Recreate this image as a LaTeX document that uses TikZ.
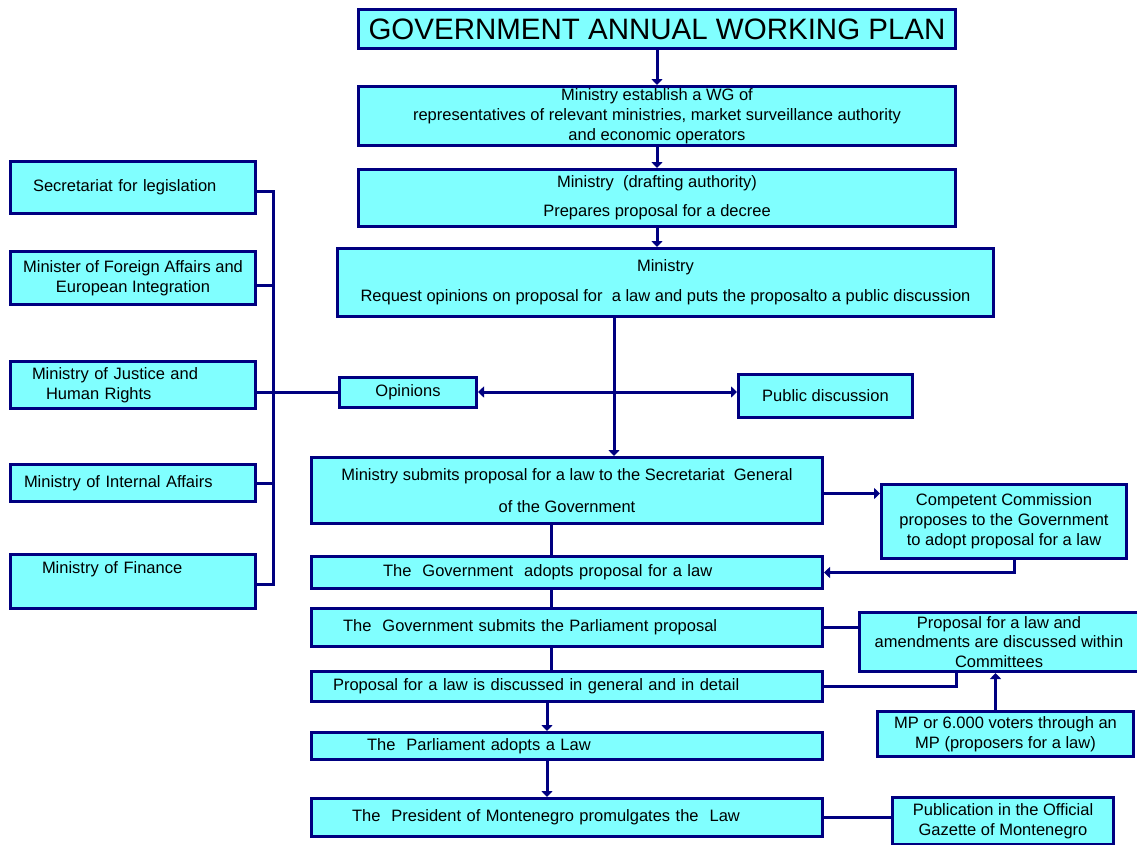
\documentclass[tikz,border=0pt]{standalone}
\usepackage{fontspec}
\setmainfont{Liberation Sans}
\usetikzlibrary{arrows.meta,positioning}
\definecolor{plannavy}{HTML}{000080}
\definecolor{plancyan}{HTML}{80FFFF}
\tikzset{
  link/.style={line width=3pt,draw=plannavy},
  flow/.style={link,-{Triangle[length=6pt,width=11pt]}},
  box/.style={draw=plannavy,line width=3pt,fill=plancyan,align=center,inner sep=2pt,font=\fontsize{16.5}{19.8}\selectfont},
  leftbox/.style={box,align=left,inner xsep=0pt},
  stage/.style={leftbox,minimum width=511pt}
}
\begin{document}
\begin{tikzpicture}[x=1pt,y=-1pt]
  \useasboundingbox (0,0) rectangle (1137,844);

  % main column
  \node[box,minimum width=597pt,minimum height=39pt,font=\fontsize{29.5}{34}\selectfont] (title) at (657,29) {GOVERNMENT ANNUAL WORKING PLAN};
  \node[box,minimum width=597pt,minimum height=59pt] (wg) at (657,116) {Ministry establish a WG of\\representatives of relevant ministries, market surveillance authority\\and economic operators};
  \node[box,minimum width=597pt,minimum height=57pt] (draft) at (657,198) {Ministry~ (drafting authority)\\[9pt]Prepares proposal for a decree};
  \node[box,minimum width=656pt,minimum height=68pt] (req) at (665.5,282.5) {Ministry\\[10pt]Request opinions on proposal for~ a law and puts the proposalto a public discussion};

  % consulted bodies
  \node[leftbox,minimum width=245pt,minimum height=52pt,text width=200pt] (sec) at (133,187.5) {Secretariat for legislation};
  \node[box,minimum width=245pt,minimum height=53pt] (fa) at (133,278) {Minister of Foreign Affairs and\\European Integration};
  \node[leftbox,minimum width=245pt,minimum height=47pt,text width=202pt] (just) at (133,385) {Ministry of Justice and\\\hspace*{14pt}Human Rights};
  \node[leftbox,minimum width=245pt,minimum height=37pt,text width=218pt] (intern) at (133,483) {Ministry of Internal Affairs};
  \node[leftbox,minimum width=245pt,minimum height=54pt,text width=182pt] (fin) at (133,581.5) {Ministry of Finance\\[8pt]\mbox{}};

  \node[box,minimum width=137pt,minimum height=30pt] (opin) at (408,392) {Opinions};
  \node[box,minimum width=174pt,minimum height=43pt] (pub) at (825.5,396) {Public discussion};

  % government and parliament
  \node[box,minimum width=511pt,minimum height=66pt] (submit) at (567,490.5) {Ministry submits proposal for a law to the Secretariat~ General\\[12pt]of the Government};
  \node[box,minimum width=245pt,minimum height=74pt] (comm) at (1004,521.5) {Competent Commission\\proposes to the Government\\to adopt proposal for a law};
  \node[stage,minimum height=32pt,text width=368pt] (adopt) at (567,572.5) {The~ Government~ adopts proposal for a law};
  \node[stage,minimum height=38pt,text width=448pt] (psub) at (567,627.5) {The~ Government submits the Parliament proposal};
  \node[box,minimum width=279pt,minimum height=59pt] (cmt) at (999,642) {Proposal for a law and\\amendments are discussed within\\Committees};
  \node[stage,minimum height=30pt,text width=468pt] (disc) at (567,686.5) {Proposal for a law is discussed in general and in detail};
  \node[box,minimum width=256pt,minimum height=45pt] (mp) at (1005.5,734) {MP or 6.000 voters through an\\MP (proposers for a law)};
  \node[stage,minimum height=27pt,text width=400pt] (parl) at (567,746) {The~ Parliament adopts a Law};
  \node[stage,minimum height=38pt,text width=430pt] (pres) at (567,817.5) {The~ President of Montenegro promulgates the~ Law};
  \node[box,minimum width=221pt,minimum height=47pt] (gaz) at (1003,821) {Publication in the Official\\Gazette of Montenegro};

  \coordinate (bus) at (273,0);
  \coordinate (spine) at (614,0);
  \coordinate (stem) at (551,0);
  \coordinate (stemlow) at (547,0);

  \draw[flow] (title) -- (wg);
  \draw[flow] (wg) -- (draft);
  \draw[flow] (draft.south) -- (draft.south |- req.north);
  \draw[link] ([yshift=-4pt]sec.east) -- ([yshift=-4pt]sec.east -| bus) -- ([yshift=-3pt]fin.east -| bus) -- ([yshift=-3pt]fin.east);
  \draw[link] ([yshift=-7pt]fa.east) -- ([yshift=-7pt]fa.east -| bus);
  \draw[link] (intern.east) -- (intern.east -| bus);
  \draw[link] (just.east |- opin.west) -- (opin.west);
  \draw[flow] (req.south -| spine) -- (submit.north -| spine);
  \draw[flow] (opin.east -| spine) -- (opin.east);
  \draw[flow] (opin.east -| spine) -- (opin.east -| pub.west);
  \draw[flow] ([yshift=-3pt]submit.east) -- ([yshift=-3pt]submit.east -| comm.west);
  \draw[flow] ([xshift=10pt]comm.south) |- (adopt.east);
  \draw[link] (submit.south -| stem) -- (adopt.north -| stem);
  \draw[link] (adopt.south -| stem) -- (psub.north -| stem);
  \draw[link] (psub.south -| stem) -- (disc.north -| stem);
  \draw[link] (psub.east) -- (psub.east -| cmt.west);
  \draw[link] (disc.east) -| ([xshift=-43pt]cmt.south);
  \draw[flow] ([xshift=-10pt]mp.north) -- ([xshift=-10pt]mp.north |- cmt.south);
  \draw[flow] (disc.south -| stemlow) -- (parl.north -| stemlow);
  \draw[flow] (parl.south -| stemlow) -- (pres.north -| stemlow);
  \draw[link] (pres.east) -- (pres.east -| gaz.west);
\end{tikzpicture}
\end{document}
